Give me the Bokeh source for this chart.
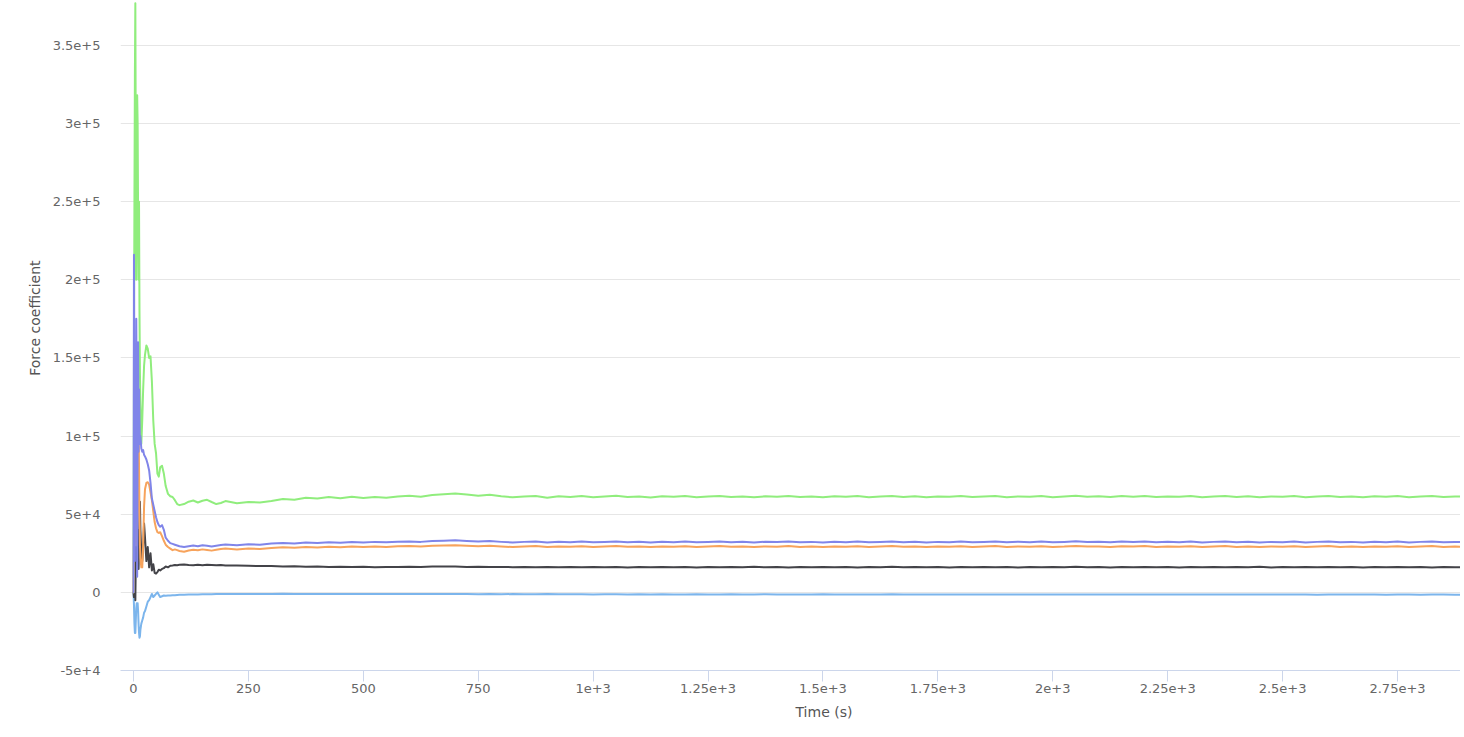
from bokeh.plotting import figure
from bokeh.models import FixedTicker, Range1d, ColumnDataSource, Title
from bokeh.embed import file_html
from bokeh.resources import INLINE

# ---------------- data ----------------
t_early = [0, 1, 2, 3, 4, 5, 6, 7, 8, 9, 10, 11, 12, 13, 14, 15,
           17, 19, 21, 23, 25,
           28, 31, 34, 37, 40, 43, 46, 49, 52, 55, 58,
           62, 66, 70,
           75, 80, 85, 90, 95, 100,
           110, 120, 130, 140, 150, 160, 170, 180, 190, 200]

t_late = [225, 250, 275, 300, 325, 350, 375, 400, 425, 450,
          475, 500, 525, 550, 575, 600, 625, 650, 675, 700,
          725, 750, 775, 800, 825, 850, 875, 900, 925, 950,
          975, 1000, 1025, 1050, 1075, 1100, 1125, 1150, 1175, 1200,
          1225, 1250, 1275, 1300, 1325, 1350, 1375, 1400, 1425, 1450,
          1475, 1500, 1525, 1550, 1575, 1600, 1625, 1650, 1675, 1700,
          1725, 1750, 1775, 1800, 1825, 1850, 1875, 1900, 1925, 1950,
          1975, 2000, 2025, 2050, 2075, 2100, 2125, 2150, 2175, 2200,
          2225, 2250, 2275, 2300, 2325, 2350, 2375, 2400, 2425, 2450,
          2475, 2500, 2525, 2550, 2575, 2600, 2625, 2650, 2675, 2700,
          2725, 2750, 2775, 2800, 2825, 2850, 2875, 2900]

blue_early = [0, -8000, -20000, -26000, -26000, -18000, -10000, -7000, -8000, -7000, -12000, -20000, -26000, -29000, -28000, -24000,
              -20000, -18000, -16000, -13000, -12000,
              -9000, -6000, -5000, -3000, -1000, -3000, -2000, -1000, 0, -1500, -3000,
              -2500, -2000, -2200,
              -2000, -2000, -1800, -1900, -1700, -1600,
              -1500, -1400, -1300, -1300, -1200, -1200, -1200, -1100, -1100, -1000]
blue_late = [-1100, -1000, -1000, -1100, -900, -1000, -1000, -1100, -1000, -1000,
             -1100, -1000, -1100, -1000, -1100, -1000, -1100, -1100, -1000, -1100,
             -1100, -1200, -1100, -1200, -1100, -1200, -1200, -1100, -1200, -1200,
             -1200, -1300, -1200, -1200, -1300, -1200, -1300, -1200, -1300, -1300,
             -1200, -1300, -1300, -1200, -1300, -1300, -1200, -1300, -1300, -1300,
             -1300, -1200, -1300, -1300, -1400, -1300, -1300, -1200, -1300, -1300,
             -1400, -1300, -1300, -1400, -1300, -1300, -1400, -1300, -1400, -1300,
             -1300, -1400, -1300, -1400, -1400, -1300, -1400, -1300, -1400, -1400,
             -1300, -1400, -1400, -1300, -1400, -1400, -1300, -1400, -1400, -1300,
             -1400, -1400, -1300, -1400, -1500, -1400, -1400, -1300, -1400, -1400,
             -1500, -1400, -1400, -1500, -1400, -1400, -1500, -1400]

black_early = [0, -3000, 30000, 50000, -5000, 20000, 45000, 52000, 20000, 40000, 30000, 15000, 30000, 50000, 58000, 40000,
               25000, 20000, 30000, 44000, 35000,
               20000, 29000, 16000, 25000, 14000, 18000, 12500, 12000, 13000, 14500, 14000,
               15000, 15500, 16500,
               16000, 17000, 17200, 17500, 17300, 17600,
               17800, 17500, 17300, 17600, 17400, 17700, 17500, 17300, 17500, 17200]
black_late = [17200, 17000, 16800, 16900, 16600, 16700, 16400, 16500, 16300, 16400,
              16200, 16400, 16100, 16300, 16200, 16400, 16300, 16500, 16600, 16500,
              16300, 16400, 16200, 16300, 16100, 16200, 16000, 16200, 16100, 16300,
              16000, 16200, 16100, 16300, 15900, 16200, 16000, 16300, 16100, 16200,
              15900, 16300, 16000, 16200, 16100, 16400, 16000, 16200, 15900, 16300,
              16000, 16200, 16100, 16300, 15900, 16200, 16100, 16400, 16000, 16200,
              16100, 16300, 15900, 16200, 16000, 16300, 16100, 16200, 15900, 16300,
              16000, 16200, 16100, 16400, 16000, 16200, 15900, 16300, 16100, 16200,
              16000, 16300, 15900, 16200, 16100, 16300, 16000, 16200, 16100, 16400,
              15900, 16200, 16100, 16300, 16000, 16200, 16000, 16300, 15900, 16200,
              16100, 16300, 16000, 16200, 15900, 16300, 16000, 16200]

green_early = [0, 150000, 250000, 330000, 377000, 280000, 200000, 260000, 318000, 300000, 240000, 200000, 250000, 180000, 140000, 120000,
               95000, 110000, 130000, 145000, 152000,
               158000, 156000, 150000, 151000, 135000, 110000, 95000, 89000, 76000, 74000, 80000,
               81000, 76000, 68000,
               63000, 61500, 61000, 59000, 56500, 55800,
               56500, 58000, 58800, 57500, 58600, 59200, 57800, 56500, 57200, 58400]
green_late = [57000, 57800, 57500, 58500, 59800, 59200, 60500, 60000, 61000, 60200,
              61200, 60400, 61000, 60600, 61300, 61800, 61200, 62300, 62800, 63300,
              62600, 61800, 62400, 61500, 60800, 61300, 61700, 60600, 61500, 61000,
              61600, 60900, 61400, 61800, 61000, 61300, 60700, 61500, 61100, 61600,
              60900, 61300, 61700, 61000, 61400, 60800, 61500, 61200, 61700, 61000,
              61400, 60800, 61500, 61100, 61600, 60900, 61300, 61700, 61000, 61500,
              60800, 61400, 61100, 61600, 61000, 61300, 61700, 60900, 61400, 61100,
              61600, 60900, 61300, 61800, 61200, 61500, 61000, 61600, 61200, 61700,
              61000, 61400, 61100, 61600, 60900, 61300, 61700, 61000, 61500, 60800,
              61400, 61100, 61600, 60900, 61300, 61700, 61000, 61400, 60800, 61500,
              61100, 61600, 60900, 61300, 61700, 61000, 61400, 61100]

orange_early = [0, 40000, 80000, 30000, 60000, 90000, 70000, 30000, 45000, 60000, 95000, 110000, 80000, 50000, 30000, 22000,
                16000, 16000, 30000, 55000, 66000,
                70000, 70500, 69000, 64000, 59000, 52000, 45000, 41000, 38500, 38000, 38500,
                36000, 33000, 30500,
                29000, 28000, 27000, 27500, 27000, 26500,
                26000, 26800, 27300, 26900, 27500, 27100, 26700, 27200, 27700, 28000]
orange_late = [27500, 28000, 27800, 28400, 28800, 28500, 29000, 28700, 29200, 28900,
               29300, 29000, 29400, 29100, 29500, 29700, 29400, 29800, 30000, 30200,
               29900, 29500, 29800, 29400, 29000, 29400, 29600, 29000, 29400, 29200,
               29500, 29100, 29400, 29600, 29200, 29400, 29000, 29400, 29200, 29500,
               29100, 29300, 29600, 29200, 29400, 29000, 29400, 29200, 29600, 29100,
               29300, 29000, 29400, 29200, 29500, 29100, 29300, 29600, 29200, 29400,
               29000, 29300, 29200, 29500, 29100, 29300, 29600, 29100, 29400, 29200,
               29500, 29100, 29300, 29700, 29300, 29400, 29100, 29500, 29300, 29600,
               29100, 29400, 29200, 29500, 29000, 29300, 29600, 29100, 29400, 29000,
               29300, 29200, 29500, 29000, 29300, 29600, 29100, 29300, 29000, 29400,
               29200, 29500, 29000, 29300, 29600, 29100, 29300, 29200]

purple_early = [0, 216000, 100000, 20000, 150000, 60000, 175000, 120000, 10000, 100000, 160000, 90000, 130000, 110000, 95000, 100000,
                92000, 90000, 91000, 88000, 87000,
                85000, 82000, 78000, 70000, 60000, 56000, 52000, 48000, 45000, 43000, 42000,
                43000, 40000, 35000,
                33000, 31500, 31000, 30500, 30000, 29500,
                29000, 29500, 30000, 29500, 30200, 29800, 29300, 29800, 30300, 30600]
purple_late = [30200, 30800, 30500, 31200, 31600, 31300, 31900, 31600, 32100, 31800,
               32200, 31900, 32300, 32000, 32400, 32600, 32300, 32800, 33000, 33300,
               32900, 32500, 32800, 32300, 31900, 32300, 32600, 31900, 32400, 32100,
               32500, 32000, 32300, 32600, 32100, 32400, 31900, 32400, 32100, 32500,
               32000, 32300, 32600, 32100, 32400, 31900, 32400, 32200, 32600, 32000,
               32300, 31900, 32400, 32100, 32500, 32000, 32300, 32600, 32100, 32400,
               31900, 32300, 32100, 32500, 32000, 32300, 32600, 32000, 32400, 32100,
               32500, 32000, 32300, 32700, 32200, 32400, 32000, 32500, 32200, 32600,
               32000, 32400, 32100, 32500, 31900, 32300, 32600, 32000, 32400, 31900,
               32300, 32100, 32500, 31900, 32300, 32600, 32000, 32300, 31900, 32400,
               32100, 32500, 31900, 32300, 32600, 32000, 32300, 32100]

x_ticks = [0, 250, 500, 750, 1000, 1250, 1500, 1750, 2000, 2250, 2500, 2750]
x_labels = ["0", "250", "500", "750", "1e+3", "1.25e+3", "1.5e+3", "1.75e+3",
            "2e+3", "2.25e+3", "2.5e+3", "2.75e+3"]
y_ticks = [-50000, 0, 50000, 100000, 150000, 200000, 250000, 300000, 350000]
y_labels = ["-5e+4", "0", "5e+4", "1e+5", "1.5e+5", "2e+5", "2.5e+5", "3e+5", "3.5e+5"]

series_names = ["blue", "black", "green", "orange", "purple"]
series_colors = ["#7cb5ec", "#434348", "#90ed7d", "#f7a35c", "#8085e9"]

x_title = "Time (s)"
y_title = "Force coefficient"

# ---------------- build ----------------
src = ColumnDataSource(dict(
    t=t_early + t_late,
    blue=blue_early + blue_late,
    black=black_early + black_late,
    green=green_early + green_late,
    orange=orange_early + orange_late,
    purple=purple_early + purple_late,
))

FONT = "DejaVu Sans"

p = figure(width=1460, height=729, output_backend="svg", toolbar_location=None,
           title=None,
           x_range=Range1d(-28.3, 2887.0), y_range=Range1d(-50000, 378700),
           min_border_left=120, min_border_right=0, min_border_top=0,
           min_border_bottom=59)
p.outline_line_color = None
p.background_fill_color = "white"
p.border_fill_color = "white"

for name, col in zip(series_names, series_colors):
    p.line(x="t", y=name, source=src, line_width=2, line_color=col,
           line_join="round", line_cap="round")

# x axis
xa = p.xaxis[0]
xa.ticker = FixedTicker(ticks=x_ticks)
xa.major_label_overrides = {k: v for k, v in zip(x_ticks, x_labels)}
xa.axis_line_color = "#ccd6eb"
xa.major_tick_line_color = "#ccd6eb"
xa.major_tick_out = 11
xa.major_tick_in = 0
xa.minor_tick_line_color = None
xa.major_label_standoff = 2
xa.major_label_text_color = "#666666"
xa.major_label_text_font = FONT
xa.major_label_text_font_size = "13px"

# y axis
ya = p.yaxis[0]
ya.ticker = FixedTicker(ticks=y_ticks)
ya.major_label_overrides = {k: v for k, v in zip(y_ticks, y_labels)}
ya.axis_line_color = None
ya.major_tick_line_color = None
ya.minor_tick_line_color = None
ya.major_tick_out = 0
ya.major_tick_in = 0
ya.major_label_standoff = 20
ya.major_label_text_color = "#666666"
ya.major_label_text_font = FONT
ya.major_label_text_font_size = "13px"

p.xgrid.grid_line_color = None
p.ygrid.grid_line_color = "#e6e6e6"
p.ygrid.ticker = FixedTicker(ticks=y_ticks[1:])

# axis titles (placed as titles so they can be offset like the reference)
p.add_layout(Title(text=y_title, align="right", offset=260, standoff=14,
                   text_font=FONT, text_font_size="14px", text_font_style="normal",
                   text_color="#555555"), "left")
p.add_layout(Title(text=x_title, align="left", offset=675, standoff=12,
                   text_font=FONT, text_font_size="14px", text_font_style="normal",
                   text_color="#555555"), "below")

open("out.html", "w").write(file_html(p, INLINE))
